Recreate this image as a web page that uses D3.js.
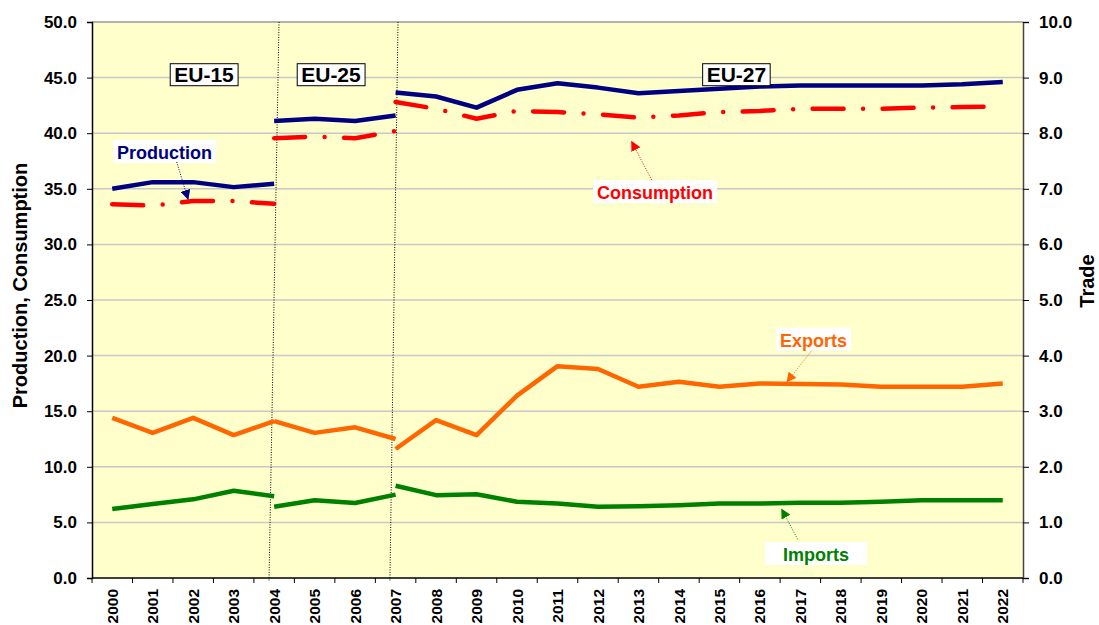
<!DOCTYPE html>
<html><head><meta charset="utf-8">
<script src="https://cdn.jsdelivr.net/npm/d3@7"></script>
<style>
body{margin:0;background:#fff}
svg{display:block;font-family:Arial,"Liberation Sans",sans-serif;font-weight:bold}
</style>
</head><body>
<svg id="c" width="1099" height="625"></svg>
<script>
const years = ["2000","2001","2002","2003","2004","2005","2006","2007","2008","2009","2010","2011",
  "2012","2013","2014","2015","2016","2017","2018","2019","2020","2021","2022"];
const leftTicks = [0,5,10,15,20,25,30,35,40,45,50];
const rightTicks = [0,1,2,3,4,5,6,7,8,9,10];
const periodStart = [0,4,7];
const periodLabels = ["EU-15","EU-25","EU-27"];

const productionEU15 = [35.0,35.6,35.6,35.15,35.45];
const productionEU25 = [41.1,41.3,41.1,41.6];
const productionEU27 = [43.65,43.3,42.3,43.9,44.5,44.1,43.6,43.8,44.0,44.2,44.3,44.3,44.3,44.3,44.4,44.6];
const consumptionEU15 = [33.6,33.5,33.9,33.9,33.65];
const consumptionEU25 = [39.55,39.7,39.55,40.2];
const consumptionEU27 = [42.8,42.2,41.3,42.0,41.9,41.7,41.4,41.6,41.9,42.0,42.2,42.2,42.2,42.3,42.35,42.4];
const exportsEU15 = [2.88,2.61,2.88,2.57,2.82];
const exportsEU25 = [2.82,2.61,2.71,2.50];
const exportsEU27 = [2.32,2.84,2.57,3.28,3.81,3.76,3.44,3.53,3.44,3.50,3.49,3.48,3.44,3.44,3.44,3.50];
const importsEU15 = [1.24,1.33,1.415,1.57,1.47];
const importsEU25 = [1.28,1.40,1.35,1.50];
const importsEU27 = [1.66,1.49,1.505,1.37,1.34,1.28,1.29,1.31,1.34,1.34,1.355,1.355,1.37,1.40,1.40,1.40];

const L = 92, R = 1023, T = 22, B = 578;
const svg = d3.select("#c");
const x = d3.scaleBand().domain(years).range([L,R]);
const bw = x.bandwidth();
const xi = d3.scaleLinear().domain([0,years.length]).range([L,R]);
const yL = d3.scaleLinear().domain([0,50]).range([B,T]);
const yR = d3.scaleLinear().domain([0,10]).range([B,T]);

// background
svg.append("rect").attr("x",L).attr("y",T).attr("width",R-L).attr("height",B-T).attr("fill","#FFFFCC");
// grid
svg.append("g").selectAll("line").data(leftTicks.filter(v=>v>0)).join("line")
  .attr("x1",L).attr("x2",R).attr("y1",d=>yL(d)).attr("y2",d=>yL(d))
  .attr("stroke", d=> d===50 ? "#999" : "#C8C8C8").attr("stroke-width",1.5);

// separators
const sepTop = [4.62, 7.56], sepBot = [4.373, 7.36];
svg.append("g").selectAll("line").data(sepTop).join("line")
  .attr("x1",d=>xi(d)).attr("y1",T).attr("x2",(d,i)=>xi(sepBot[i])).attr("y2",B+3)
  .attr("stroke","#000").attr("stroke-width",1).attr("stroke-dasharray","1,1.5");

// axes
const gl = svg.append("g").attr("transform",`translate(${L},0)`)
  .call(d3.axisLeft(yL).tickValues(leftTicks).tickFormat(d3.format(".1f")).tickSize(5).tickPadding(10));
const gr = svg.append("g").attr("transform",`translate(${R},0)`)
  .call(d3.axisRight(yR).tickValues(rightTicks).tickFormat(d3.format(".1f")).tickSize(6).tickPadding(10));
[gl,gr].forEach(g=>{
  g.selectAll("text").attr("font-size",17).attr("font-weight","bold").attr("font-family","Arial, 'Liberation Sans', sans-serif").attr("fill","#000");
  g.selectAll("line").attr("stroke","#000");
  g.select(".domain").attr("stroke","#000").attr("stroke-width",1.5);
});
gr.select(".domain").attr("stroke","#444");
// bottom axis
svg.append("line").attr("x1",L).attr("x2",R).attr("y1",B).attr("y2",B).attr("stroke","#000").attr("stroke-width",1.5);
svg.append("g").selectAll("line").data(years.concat(["end"])).join("line")
  .attr("x1",d=> d==="end" ? R : x(d)).attr("x2",d=> d==="end" ? R : x(d))
  .attr("y1",B).attr("y2",B+5).attr("stroke","#000");
svg.append("g").selectAll("text").data(years).join("text")
  .attr("transform",d=>`translate(${x(d)+bw/2},589) rotate(-90)`)
  .attr("text-anchor","end").attr("dy","0.36em").attr("font-size",15.5).text(d=>d);

// axis titles
svg.append("text").attr("transform",`translate(27,285.5) rotate(-90)`).attr("text-anchor","middle")
  .attr("font-size",20).text("Production, Consumption");
svg.append("text").attr("transform",`translate(1094,281) rotate(-90)`).attr("text-anchor","middle")
  .attr("font-size",20).text("Trade");

// series
function drawSeries(segs, y, color, dash){
  segs.forEach((vals,k)=>{
    const s = periodStart[k];
    const line = d3.line().x((d,i)=>x(years[s+i])+bw/2).y(d=>y(d));
    svg.append("path").datum(vals).attr("d",line).attr("fill","none")
      .attr("stroke",color).attr("stroke-width",4.5)
      .attr("stroke-linecap",dash ? "round" : "butt").attr("stroke-linejoin","round")
      .attr("stroke-dasharray",dash || null);
  });
}
drawSeries([productionEU15,productionEU25,productionEU27], yL, "#000080");
drawSeries([consumptionEU15,consumptionEU25,consumptionEU27], yL, "#FF0000", "31,19.5,0,19.5");
drawSeries([exportsEU15,exportsEU25,exportsEU27], yR, "#FF6600");
drawSeries([importsEU15,importsEU25,importsEU27], yR, "#008000");

// period boxes
const periodPos = [2.767, 5.904, 15.92];
periodLabels.forEach((t,i)=>{
  const g = svg.append("g");
  const tx = g.append("text").attr("x",xi(periodPos[i])).attr("y",yL(44.63))
    .attr("text-anchor","middle").attr("font-size",21).attr("fill","#000").text(t);
  const b = tx.node().getBBox();
  g.insert("rect","text").attr("x",b.x-4).attr("y",b.y+1).attr("width",b.width+8).attr("height",b.height-1)
    .attr("fill","#fff").attr("stroke","#000").attr("stroke-width",1);
});

// annotations
const defs = svg.append("defs");
const notes = [
  {text:"Production", color:"#000080", y:yL, cx:1.791, base:37.68, from:[2.093,37.41], to:[2.372,34.08]},
  {text:"Consumption", color:"#FF0000", y:yL, cx:13.909, base:34.08, from:[13.827,35.79], to:[13.333,39.24]},
  {text:"Exports", color:"#FF6600", y:yR, cx:17.824, base:4.16, from:[17.78,4.088], to:[17.17,3.53]},
  {text:"Imports", color:"#008000", y:yR, cx:17.886, base:0.306, from:[17.434,0.696], to:[17.04,1.236]}
];
notes.forEach((n,i)=>{
  defs.append("marker").attr("id","m"+i).attr("viewBox","0 0 10 10").attr("refX",9).attr("refY",5)
    .attr("markerWidth",10).attr("markerHeight",10).attr("markerUnits","userSpaceOnUse").attr("orient","auto")
    .append("path").attr("d","M0,0L10,5L0,10Z").attr("fill",n.color);
  const g = svg.append("g");
  const tx = g.append("text").attr("x",xi(n.cx)).attr("y",n.y(n.base)).attr("text-anchor","middle")
    .attr("font-size",18).attr("fill",n.color).text(n.text);
  const b = tx.node().getBBox();
  const padX = n.text==="Imports" ? 18 : 4;
  g.insert("rect","text").attr("x",b.x-padX).attr("y",b.y-3).attr("width",b.width+2*padX).attr("height",b.height+3)
    .attr("fill","#fff");
  svg.append("line").attr("x1",xi(n.from[0])).attr("y1",n.y(n.from[1])).attr("x2",xi(n.to[0])).attr("y2",n.y(n.to[1]))
    .attr("stroke",n.color).attr("stroke-width",1).attr("stroke-dasharray","1,1.5").attr("marker-end",`url(#m${i})`);
});
</script>
</body></html>
